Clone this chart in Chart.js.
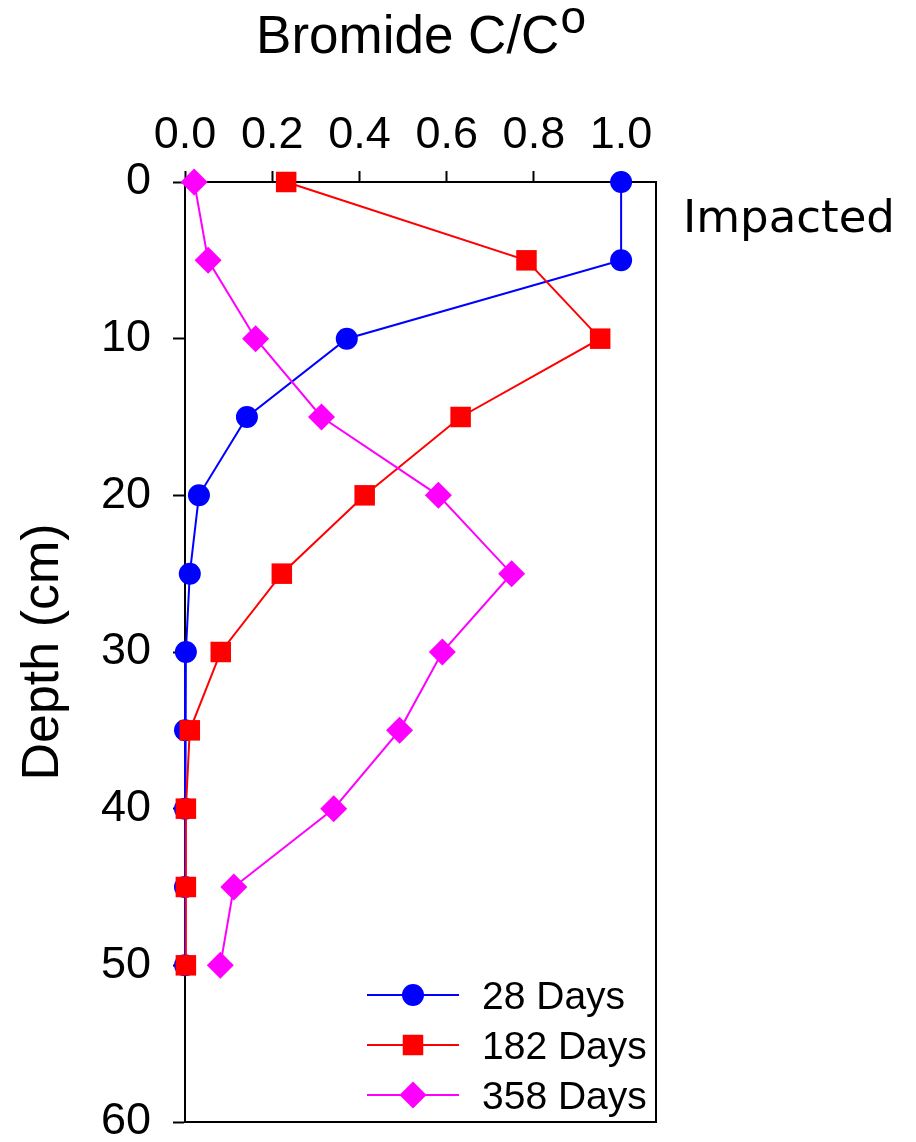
<!DOCTYPE html>
<html>
<head>
<meta charset="utf-8">
<script src="https://cdn.jsdelivr.net/npm/chart.js@4/dist/chart.umd.min.js"></script>
<style>
  html, body { margin: 0; padding: 0; background: #fff; }
  #wrap { width: 916px; height: 1142px; }
</style>
</head>
<body>
<div id="wrap"><canvas id="c" width="916" height="1142"></canvas></div>
<script>
// ---- data ----
const depths   = [0, 5, 10, 15, 20, 25, 30, 35, 40, 45, 50];
const days28   = [1.0, 1.0, 0.371, 0.142, 0.032, 0.011, 0.002, 0.0, 0.0, 0.0, 0.0];
const days182  = [0.232, 0.783, 0.952, 0.632, 0.412, 0.222, 0.082, 0.011, 0.002, 0.002, 0.002];
const days358  = [0.021, 0.053, 0.162, 0.313, 0.581, 0.749, 0.590, 0.492, 0.341, 0.112, 0.081];
const seriesLabels = ['28 Days', '182 Days', '358 Days'];
const xTicks = [0.0, 0.2, 0.4, 0.6, 0.8, 1.0];
const yTicks = [0, 10, 20, 30, 40, 50, 60];
const xTitle = 'Bromide C/C';
const xTitleSup = 'o';
const yTitle = 'Depth (cm)';
const sideNote = 'Impacted';

const FONT = '"Liberation Sans", Arial, Helvetica, sans-serif';

function pts(vals) { return depths.map((d, i) => ({ x: vals[i], y: d })); }

const styles = [
  { color: '#0000ff', pointStyle: 'circle', r: 11, order: 2 },
  { color: '#ff0000', pointStyle: 'rect', r: 14.5, order: 1 },
  { color: '#ff00ff', pointStyle: 'rectRot', r: 13.5, order: 0 }
];
const allVals = [days28, days182, days358];

const datasets = allVals.map((v, i) => ({
  label: seriesLabels[i],
  data: pts(v),
  showLine: true,
  borderColor: styles[i].color,
  backgroundColor: styles[i].color,
  pointBackgroundColor: styles[i].color,
  pointBorderColor: styles[i].color,
  pointBorderWidth: 0,
  borderWidth: 2,
  pointStyle: styles[i].pointStyle,
  pointRadius: styles[i].r,
  pointHoverRadius: styles[i].r,
  order: styles[i].order,
  clip: false
}));

const decor = {
  id: 'decor',
  beforeDatasetsDraw(chart) {
    const { ctx, chartArea: a } = chart;
    ctx.save();
    ctx.strokeStyle = '#000';
    ctx.lineWidth = 2;
    ctx.beginPath();
    ctx.moveTo(a.right, a.top - 1);
    ctx.lineTo(a.right, a.bottom);
    ctx.lineTo(a.left, a.bottom);
    ctx.stroke();
    ctx.restore();
  },
  afterDraw(chart) {
    const { ctx, chartArea: a } = chart;
    ctx.save();
    ctx.fillStyle = '#000';
    // top title with superscript
    ctx.font = '53px ' + FONT;
    const w1 = ctx.measureText(xTitle).width;
    ctx.font = '46px ' + FONT;
    const w2 = ctx.measureText(xTitleSup).width;
    const cx = (a.left + a.right) / 2;
    const x0 = cx - (w1 + w2) / 2;
    ctx.textBaseline = 'alphabetic';
    ctx.textAlign = 'left';
    ctx.font = '53px ' + FONT;
    ctx.fillText(xTitle, x0, 53);
    ctx.font = '46px ' + FONT;
    ctx.fillText(xTitleSup, x0 + w1 + 1, 33);
    // y title
    ctx.save();
    ctx.translate(58, (a.top + a.bottom) / 2);
    ctx.rotate(-Math.PI / 2);
    ctx.font = '52px ' + FONT;
    ctx.textAlign = 'center';
    ctx.fillText(yTitle, 0, 0);
    ctx.restore();
    // side note
    ctx.font = '45px "Comic Sans MS", "DejaVu Sans", sans-serif';
    ctx.textAlign = 'left';
    ctx.fillText(sideNote, a.right + 27, 232);
    // legend
    const lx0 = a.left + 182, lx1 = a.left + 274, mx = a.left + 228;
    const ly = [a.top + 813, a.top + 863, a.top + 913];
    chart.data.datasets.forEach((ds, i) => {
      const y = ly[i];
      ctx.strokeStyle = ds.borderColor;
      ctx.lineWidth = 2;
      ctx.beginPath();
      ctx.moveTo(lx0, y); ctx.lineTo(lx1, y);
      ctx.stroke();
      ctx.fillStyle = ds.borderColor;
      Chart.helpers.drawPoint(ctx, { pointStyle: ds.pointStyle, radius: ds.pointRadius, borderWidth: 0, rotation: 0 }, mx, y);
      ctx.fillStyle = '#000';
      ctx.font = '39px ' + FONT;
      ctx.textAlign = 'left';
      ctx.textBaseline = 'alphabetic';
      ctx.fillText(ds.label, a.left + 297, y + 14);
    });
    ctx.restore();
  }
};

new Chart(document.getElementById('c'), {
  type: 'scatter',
  data: { datasets },
  options: {
    responsive: false,
    animation: false,
    devicePixelRatio: 1,
    layout: { padding: { left: 0, top: 0, right: 260, bottom: 20 } },
    plugins: { legend: { display: false }, tooltip: { enabled: false } },
    scales: {
      x: {
        type: 'linear',
        position: 'top',
        min: 0,
        max: 1.08,
        afterBuildTicks(scale) { scale.ticks = xTicks.map(v => ({ value: v })); },
        afterFit(scale) { scale.height = 182; scale.paddingLeft = 0; scale.paddingRight = 0; },
        ticks: {
          color: '#000',
          font: { family: FONT, size: 45 },
          padding: 8,
          maxRotation: 0,
          callback: v => Number(v).toFixed(1)
        },
        grid: { drawOnChartArea: false, drawTicks: true, tickLength: 11, color: '#000', tickWidth: 2 },
        border: { display: true, color: '#000', width: 2 }
      },
      y: {
        type: 'linear',
        position: 'left',
        reverse: true,
        min: 0,
        max: 60,
        afterBuildTicks(scale) { scale.ticks = yTicks.map(v => ({ value: v })); },
        afterFit(scale) { scale.width = 185; scale.paddingTop = 0; scale.paddingBottom = 0; },
        ticks: {
          color: '#000',
          font: { family: FONT, size: 45 },
          padding: 22
        },
        grid: { drawOnChartArea: false, drawTicks: true, tickLength: 12, color: '#000', tickWidth: 2 },
        border: { display: true, color: '#000', width: 2 }
      }
    }
  },
  plugins: [decor]
});
</script>
</body>
</html>
